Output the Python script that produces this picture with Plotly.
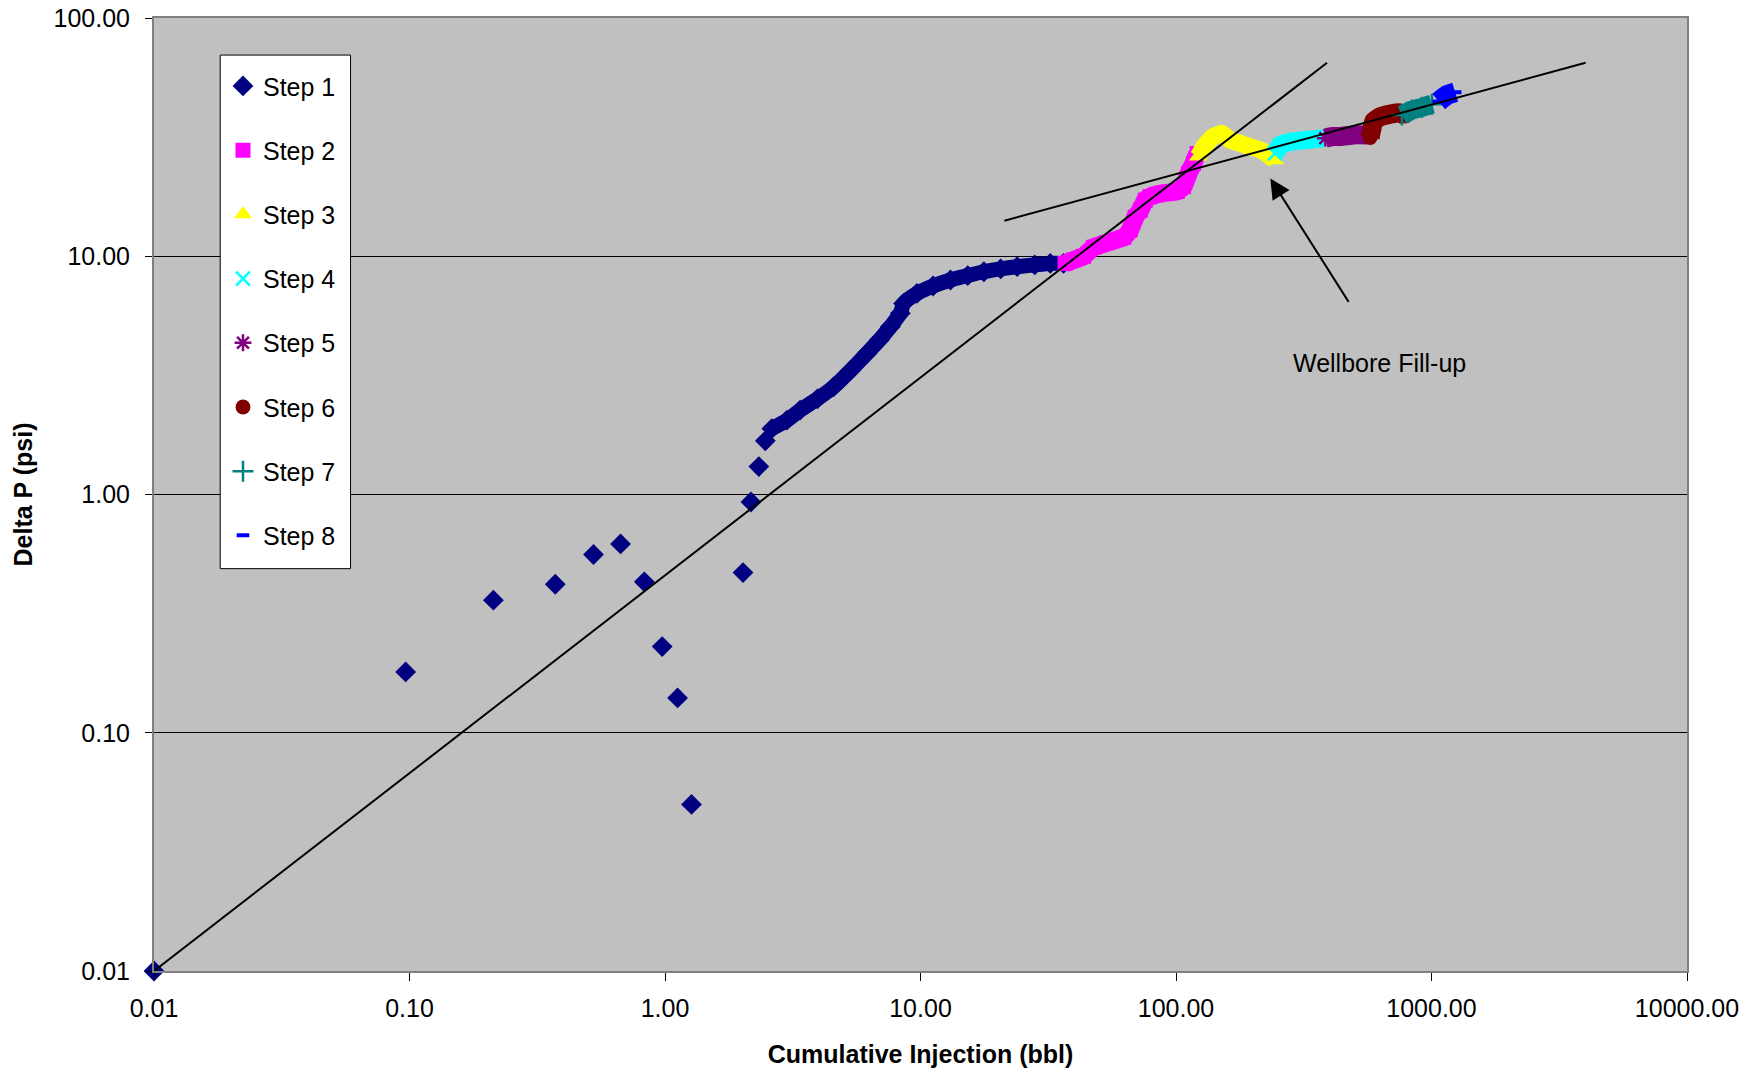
import plotly.graph_objects as go
import math

# ---------------- data ----------------
step1_x = [0.01, 0.0966, 0.213, 0.372, 0.525, 0.67, 0.83, 0.975, 1.12, 1.27, 2.02, 2.17, 2.33, 2.47,
           2.62, 3.0, 3.38, 3.95, 4.57, 5.3, 6.17, 6.9, 7.62, 8.34, 8.59, 9.68, 11.2, 13.1, 15.3, 17.7,
           20.6, 23.9, 28.0, 32.2, 36.3]
step1_y = [0.01, 0.18, 0.36, 0.42, 0.56, 0.62, 0.43, 0.23, 0.14, 0.05, 0.47, 0.93, 1.31, 1.68,
           1.89, 2.05, 2.26, 2.52, 2.83, 3.3, 3.91, 4.45, 5.06, 5.76, 6.34, 6.98, 7.5, 7.95, 8.3, 8.61,
           8.85, 9.04, 9.2, 9.33, 9.33]
STEP1_DENSE_FROM = 14  # first point of the continuous band of step 1

step2_x = [36.8, 39.7, 43.5, 47.5, 53.7, 62.4, 66.2, 69.2, 72.5, 75.8, 79.3, 89.3, 101, 107, 112, 117, 121]
step2_y = [9.33, 9.64, 10.0, 10.9, 11.4, 12.0, 12.9, 14.6, 15.6, 17.2, 17.8, 18.4, 18.7, 19.6, 22.3, 24.5, 27.0]

step3_x = [122, 130, 140, 151, 163, 178, 195, 214, 230, 244]
step3_y = [26.2, 29.3, 31.8, 32.8, 30.7, 29.8, 28.8, 27.9, 26.6, 25.3]

step4_x = [244, 256, 280, 316, 345, 378]
step4_y = [27.0, 29.3, 30.2, 30.7, 31.0, 31.3]

step5_x = [384, 410, 439, 495, 559]
step5_y = [31.3, 31.8, 31.8, 32.3, 32.3]

step6_x = [575, 585, 595, 630, 690, 750, 790]
step6_y = [31.5, 34.5, 37.0, 38.5, 39.5, 40.0, 38.8]

step7_x = [766, 838, 918, 1004]
step7_y = [39.2, 41.1, 42.2, 43.5]

step8_x = [1067, 1149, 1238]
step8_y = [44.6, 47.5, 48.8]

line1_x = [0.01, 390]
line1_y = [0.01, 64.9]
line2_x = [21.3, 4010]
line2_y = [14.1, 64.9]

x_tickvals = [0.01, 0.1, 1, 10, 100, 1000, 10000]
x_ticktext = ["0.01", "0.10", "1.00", "10.00", "100.00", "1000.00", "10000.00"]
y_tickvals = [0.01, 0.1, 1, 10, 100]
y_ticktext = ["0.01", "0.10", "1.00", "10.00", "100.00"]

arrow_head = (234, 21.2)
arrow_tail = (478, 6.34)
label_pos = (624, 3.56)
label_text = "Wellbore Fill-up"

# ---------------- figure ----------------
FONT = "Arial, Liberation Sans, sans-serif"
FS = 25
fig = go.Figure()

steps = [
    ("Step 1", step1_x, step1_y, "#000080", "diamond", 16, 15),
    ("Step 2", step2_x, step2_y, "#FF00FF", "square", 15, 18),
    ("Step 3", step3_x, step3_y, "#FFFF00", "triangle-up", 16, 17),
    ("Step 4", step4_x, step4_y, "#00FFFF", "x-thin", 14, 18),
    ("Step 5", step5_x, step5_y, "#800080", "asterisk", 14, 19),
    ("Step 6", step6_x, step6_y, "#800000", "circle", 15, 19),
    ("Step 7", step7_x, step7_y, "#008080", "cross-thin", 15, 19),
    ("Step 8", step8_x, step8_y, "#0000FF", "line-ew", 9, 20),
]

for i, (name, xs, ys, color, sym, msize, bandw) in enumerate(steps):
    bx, by = (xs[STEP1_DENSE_FROM:], ys[STEP1_DENSE_FROM:]) if i == 0 else (xs, ys)
    fig.add_trace(go.Scatter(
        x=bx, y=by, mode="lines", showlegend=False, hoverinfo="skip",
        line=dict(color=color, width=bandw, shape="spline", smoothing=0.4 if i else 0.6),
    ))
    open_sym = sym in ("x-thin", "cross-thin", "asterisk", "line-ew")
    fig.add_trace(go.Scatter(
        x=xs, y=ys, mode="markers", name=name, legendgroup=name,
        cliponaxis=False,
        marker=dict(symbol=sym, size=msize, color=color,
                    line=dict(color=color, width=4 if sym == "line-ew" else (2.5 if open_sym else 0))),
    ))

for lx, ly in ((line1_x, line1_y), (line2_x, line2_y)):
    fig.add_trace(go.Scatter(x=lx, y=ly, mode="lines", showlegend=False, hoverinfo="skip",
                             line=dict(color="black", width=2)))

fig.add_annotation(
    x=math.log10(arrow_head[0]), y=math.log10(arrow_head[1]),
    ax=math.log10(arrow_tail[0]), ay=math.log10(arrow_tail[1]),
    xref="x", yref="y", axref="x", ayref="y",
    text="", showarrow=True, arrowhead=2, arrowsize=2, arrowwidth=2, arrowcolor="black",
)
fig.add_annotation(
    x=math.log10(label_pos[0]), y=math.log10(label_pos[1]), xref="x", yref="y",
    text=label_text, showarrow=False, font=dict(family=FONT, size=FS, color="black"),
)

# legend frame drawn as a shape so its size matches the original box
fig.add_shape(type="rect", xref="paper", yref="paper",
              x0=0.0432, x1=0.1282, y0=0.4222, y1=0.9611,
              fillcolor="white", line=dict(color="black", width=1), layer="above")

fig.update_layout(
    width=1762, height=1073,
    margin=dict(l=154, r=75, t=18, b=102),
    paper_bgcolor="white", plot_bgcolor="#C0C0C0",
    font=dict(family=FONT, size=FS, color="black"),
    showlegend=True,
    legend=dict(x=0.045, y=0.9635, xanchor="left", yanchor="top",
                bgcolor="rgba(0,0,0,0)", borderwidth=0,
                font=dict(family=FONT, size=FS, color="black"),
                tracegroupgap=28.7,
                title=dict(text=" ", font=dict(size=8))),
    xaxis=dict(type="log", range=[-2, 4], tickvals=x_tickvals, ticktext=x_ticktext,
               showgrid=False, zeroline=False, ticks="outside", ticklen=8, tickcolor="black",
               showline=True, linecolor="#808080", linewidth=2, mirror=True,
               automargin=False, ticklabelstandoff=6, ticklabeloverflow="allow",
               title=dict(text="<b>Cumulative Injection (bbl)</b>", standoff=24,
                          font=dict(family=FONT, size=FS))),
    yaxis=dict(type="log", range=[-2, 2], tickvals=y_tickvals, ticktext=y_ticktext,
               showgrid=True, gridcolor="black", gridwidth=1, zeroline=False,
               ticks="outside", ticklen=7, tickcolor="black",
               showline=True, linecolor="#808080", linewidth=2, mirror=True,
               automargin=False, ticklabelstandoff=10, ticklabeloverflow="allow",
               title=dict(text="<b>Delta P (psi)</b>", standoff=14,
                          font=dict(family=FONT, size=FS))),
)

fig.write_html("out.html",
               config={"displayModeBar": False},
               post_script="document.body.style.margin='0px';document.body.style.overflow='hidden';")
